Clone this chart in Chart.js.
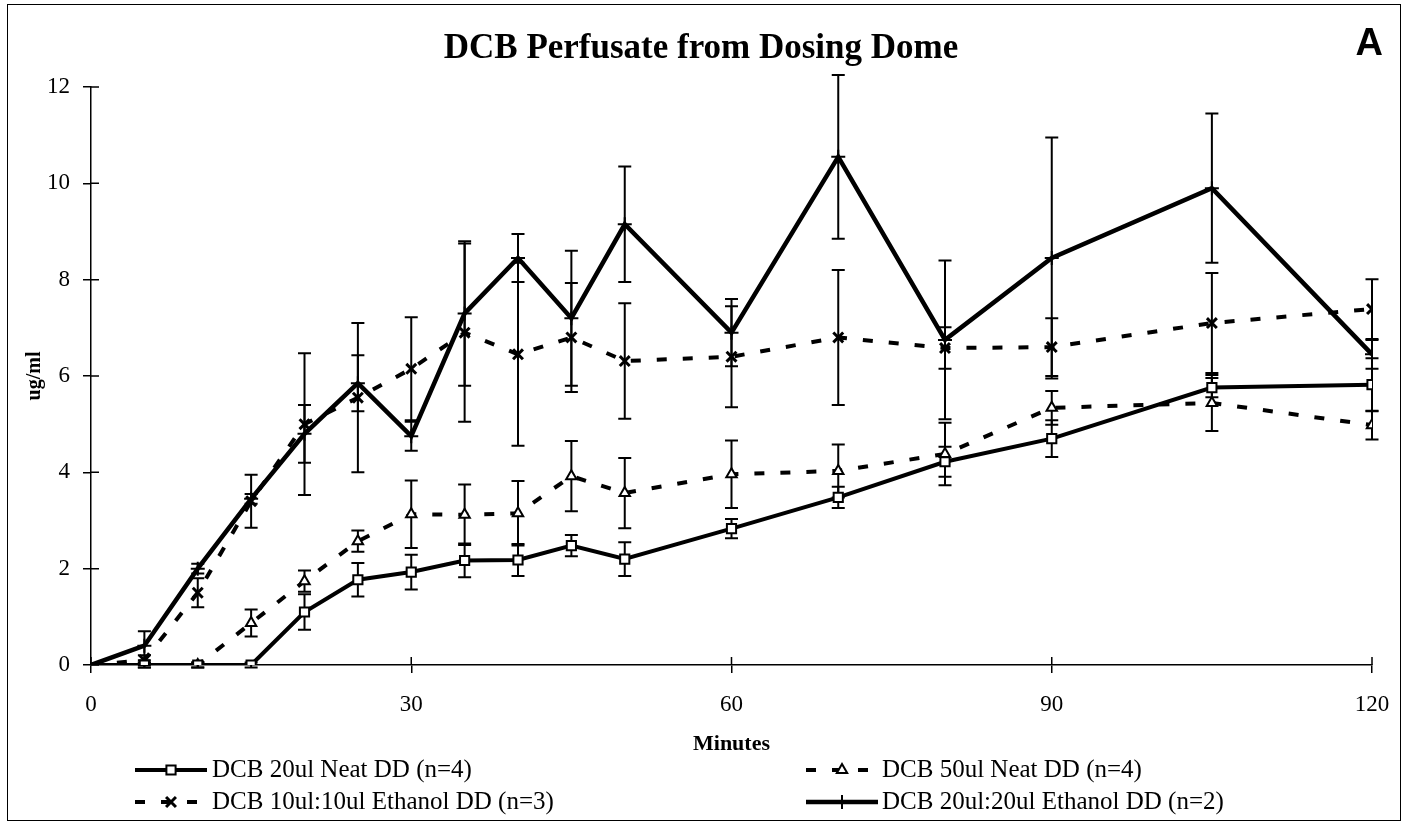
<!DOCTYPE html>
<html lang="en">
<head>
    <meta charset="UTF-8">
    <style>
        body {
            margin: 0;
            padding: 0;
            background: #ffffff;
        }
        #wrap {
            width: 1408px;
            height: 825px;
        }
    </style>
    <script src="https://cdn.jsdelivr.net/npm/chart.js"></script>
</head>
<body>
    <div id="wrap"><canvas id="perfusateChart" width="1408" height="825"></canvas></div>

    <script>
        // sampling times (minutes)
        const minutes = [0, 5, 10, 15, 20, 25, 30, 35, 40, 45, 50, 60, 70, 80, 90, 105, 120];

        // DCB 20ul Neat DD (n=4)
        const neat20 = [0, 0, 0, 0, 1.1, 1.77, 1.93, 2.17, 2.18, 2.48, 2.2, 2.83, 3.48, 4.22, 4.7, 5.76, 5.82];
        const neat20Err = [0, 0.05, 0.05, 0.05, 0.37, 0.35, 0.36, 0.35, 0.33, 0.22, 0.35, 0.2, 0.22, 0.31, 0.38, 0.2, 0.55];

        // DCB 50ul Neat DD (n=4)
        const neat50 = [0, 0, 0, 0.87, 1.74, 2.57, 3.13, 3.12, 3.15, 3.92, 3.57, 3.96, 4.03, 4.38, 5.34, 5.44, 4.98];
        const neat50Err = [0, 0.05, 0.05, 0.28, 0.22, 0.22, 0.7, 0.63, 0.67, 0.73, 0.73, 0.7, 0.55, 0.65, 0.35, 0.58, 0.3];

        // DCB 10ul:10ul Ethanol DD (n=3)
        const eth10 = [0, 0.1, 1.5, 3.4, 5.0, 5.55, 6.15, 6.9, 6.45, 6.8, 6.31, 6.4, 6.8, 6.58, 6.6, 7.1, 7.39];
        const eth10Err = [0, 0.1, 0.3, 0.55, 1.47, 1.55, 1.07, 1.85, 1.9, 1.13, 1.2, 1.05, 1.4, 0.43, 0.6, 1.04, 0.62];

        // DCB 20ul:20ul Ethanol DD (n=2)
        const eth20 = [0, 0.4, 2.0, 3.45, 4.8, 5.85, 4.75, 7.3, 8.45, 7.2, 9.15, 6.9, 10.55, 6.75, 8.45, 9.9, 6.45];
        const eth20Err = [0, 0.3, 0.1, 0.1, 0.6, 0.58, 0.3, 1.5, 0.5, 1.4, 1.2, 0.7, 1.7, 1.65, 2.5, 1.55, 0.3];

        const seriesNames = [
            'DCB 20ul Neat DD (n=4)',
            'DCB 50ul Neat DD (n=4)',
            'DCB 10ul:10ul Ethanol DD (n=3)',
            'DCB 20ul:20ul Ethanol DD (n=2)'
        ];

        const SERIF = "'Liberation Serif', 'Times New Roman', serif";
        const SANS = "'Liberation Sans', Arial, sans-serif";

        function points(values) {
            return values.map((v, i) => ({ x: minutes[i], y: v }));
        }
        const hideFirst = r => ctx => ctx.dataIndex === 0 ? 0 : r;

        // vertical error bars, drawn under the markers
        const errorBars = {
            id: 'errorBars',
            beforeDatasetsDraw(chart) {
                const { ctx, scales: { x, y } } = chart;
                ctx.save();
                ctx.strokeStyle = '#000';
                ctx.lineWidth = 2;
                chart.data.datasets.forEach(ds => {
                    ds.errors.forEach((e, j) => {
                        if (!e) return;
                        const px = x.getPixelForValue(minutes[j]);
                        const v = ds.data[j].y;
                        const top = y.getPixelForValue(v + e);
                        const bot = y.getPixelForValue(v - e);
                        ctx.beginPath();
                        ctx.moveTo(px, top); ctx.lineTo(px, bot);
                        ctx.moveTo(px - 6.5, top); ctx.lineTo(px + 6.5, top);
                        ctx.moveTo(px - 6.5, bot); ctx.lineTo(px + 6.5, bot);
                        ctx.stroke();
                    });
                });
                ctx.restore();
            }
        };

        // tick marks cross the axis lines, add the inner half
        const innerTicks = {
            id: 'innerTicks',
            afterDraw(chart) {
                const { ctx, scales: { x, y }, chartArea: a } = chart;
                ctx.save();
                ctx.strokeStyle = '#000';
                ctx.lineWidth = 1.5;
                ctx.beginPath();
                y.ticks.forEach(t => {
                    const py = y.getPixelForValue(t.value);
                    ctx.moveTo(a.left, py); ctx.lineTo(a.left + 8, py);
                });
                x.ticks.forEach(t => {
                    const px = x.getPixelForValue(t.value);
                    ctx.moveTo(px, a.bottom); ctx.lineTo(px, a.bottom - 8);
                });
                ctx.stroke();
                ctx.restore();
            }
        };

        // title, panel letter, legend and outer frame
        const decorations = {
            id: 'decorations',
            afterDraw(chart) {
                const ctx = chart.ctx;
                ctx.save();
                ctx.fillStyle = '#000';
                ctx.strokeStyle = '#000';

                ctx.font = 'bold 35px ' + SERIF;
                ctx.textAlign = 'center';
                ctx.textBaseline = 'alphabetic';
                ctx.fillText('DCB Perfusate from Dosing Dome', 701, 58);

                ctx.font = 'bold 38px ' + SANS;
                ctx.textAlign = 'right';
                ctx.fillText('A', 1383, 55);

                ctx.lineWidth = 1;
                ctx.strokeRect(7.5, 4.5, 1393, 816);

                const slots = [
                    { x0: 135, x1: 207, tx: 212, y: 770 },
                    { x0: 806, x1: 878, tx: 882, y: 770 },
                    { x0: 135, x1: 207, tx: 212, y: 802 },
                    { x0: 806, x1: 878, tx: 882, y: 802 }
                ];
                ctx.font = '25px ' + SERIF;
                ctx.textAlign = 'left';
                ctx.textBaseline = 'middle';
                chart.data.datasets.forEach((ds, i) => {
                    const s = slots[i];
                    ctx.save();
                    ctx.lineWidth = ds.borderWidth;
                    ctx.setLineDash(ds.borderDash || []);
                    ctx.beginPath();
                    ctx.moveTo(s.x0, s.y);
                    ctx.lineTo(s.x1, s.y);
                    ctx.stroke();
                    ctx.setLineDash([]);
                    ctx.fillStyle = ds.pointBackgroundColor;
                    ctx.lineWidth = ds.pointBorderWidth;
                    Chart.helpers.drawPoint(ctx, {
                        pointStyle: ds.pointStyle,
                        radius: ds.legendRadius,
                        rotation: 0,
                        borderWidth: ds.pointBorderWidth
                    }, (s.x0 + s.x1) / 2, s.y);
                    ctx.restore();
                    ctx.fillText(ds.label, s.tx, s.y);
                });
                ctx.restore();
            }
        };

        const datasets = [
            {
                label: seriesNames[0],
                data: points(neat20),
                errors: neat20Err,
                borderColor: '#000',
                borderWidth: 4,
                pointStyle: 'rect',
                pointRadius: hideFirst(6.5),
                legendRadius: 6.5,
                pointBackgroundColor: '#fff',
                pointBorderColor: '#000',
                pointBorderWidth: 2
            },
            {
                label: seriesNames[1],
                data: points(neat50),
                errors: neat50Err,
                borderColor: '#000',
                borderWidth: 4,
                borderDash: [10, 16],
                pointStyle: 'triangle',
                pointRadius: hideFirst(6),
                legendRadius: 6,
                pointBackgroundColor: '#fff',
                pointBorderColor: '#000',
                pointBorderWidth: 2
            },
            {
                label: seriesNames[2],
                data: points(eth10),
                errors: eth10Err,
                borderColor: '#000',
                borderWidth: 4,
                borderDash: [10, 16],
                pointStyle: 'crossRot',
                pointRadius: hideFirst(7),
                legendRadius: 7,
                pointBackgroundColor: '#fff',
                pointBorderColor: '#000',
                pointBorderWidth: 3
            },
            {
                label: seriesNames[3],
                data: points(eth20),
                errors: eth20Err,
                borderColor: '#000',
                borderWidth: 4.5,
                pointStyle: 'cross',
                pointRadius: hideFirst(7),
                legendRadius: 7,
                pointBackgroundColor: '#fff',
                pointBorderColor: '#000',
                pointBorderWidth: 2
            }
        ];

        new Chart(document.getElementById('perfusateChart'), {
            type: 'line',
            data: { datasets: datasets },
            options: {
                responsive: false,
                animation: false,
                events: [],
                layout: { padding: { left: 8, right: 36, top: 87, bottom: 60 } },
                elements: { line: { tension: 0, fill: false } },
                plugins: {
                    legend: { display: false },
                    title: { display: false },
                    tooltip: { enabled: false }
                },
                scales: {
                    x: {
                        type: 'linear',
                        min: 0,
                        max: 120,
                        afterFit: s => { s.height = 100; },
                        ticks: {
                            stepSize: 30,
                            color: '#000',
                            padding: 18,
                            maxRotation: 0,
                            font: { family: SERIF, size: 23 }
                        },
                        grid: { drawOnChartArea: false, tickLength: 8, color: '#000', lineWidth: 1.5 },
                        border: { display: true, color: '#000', width: 1.5 },
                        title: {
                            display: true,
                            text: 'Minutes',
                            color: '#000',
                            padding: { top: 0, bottom: 7 },
                            font: { family: SERIF, size: 22, weight: 'bold' }
                        }
                    },
                    y: {
                        min: 0,
                        max: 12,
                        afterFit: s => { s.width = 83; },
                        ticks: {
                            stepSize: 2,
                            color: '#000',
                            padding: 13,
                            font: { family: SERIF, size: 23 }
                        },
                        grid: { drawOnChartArea: false, tickLength: 8, color: '#000', lineWidth: 1.5 },
                        border: { display: true, color: '#000', width: 1.5 },
                        title: {
                            display: true,
                            text: 'ug/ml',
                            color: '#000',
                            padding: { top: 15, bottom: 0 },
                            font: { family: SERIF, size: 20, weight: 'bold' }
                        }
                    }
                }
            },
            plugins: [errorBars, innerTicks, decorations]
        });
    </script>
</body>
</html>
